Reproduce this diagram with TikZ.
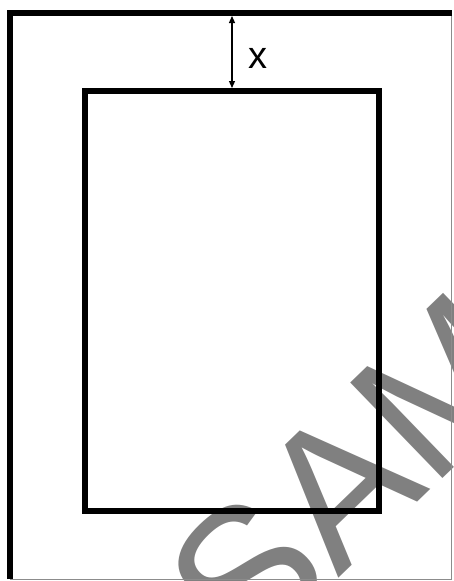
\documentclass[tikz,border=0pt]{standalone}
\usepackage{fontspec}
\setmainfont{Liberation Sans}
\usetikzlibrary{arrows.meta}
\begin{document}
\begin{tikzpicture}[x=1pt,y=-1pt,
  frame/.style={line width=6.5pt},
  edge/.style={draw=black!45,line width=1pt},
  dim/.style={line width=1.2pt,{Triangle[length=7pt,width=6pt]}-{Triangle[length=7pt,width=6pt]}}]
\useasboundingbox (0,0) rectangle (453,581);
% watermark
\begin{scope}
\clip (0,0) rectangle (453,581);
\node[text=black!50,font=\fontsize{193}{193}\selectfont,rotate=44,anchor=base west,inner sep=0pt] (mark) at (246,668) {SAMPLE};
\end{scope}
% outer sheet
\draw[edge] (451,13)--(451,579)--(10,579);
\draw[frame] (10,579)--(10,13)--(452,13);
% inner box
\draw[frame] (85,91) rectangle (379,511);
\coordinate (sheet) at (232,16);
\coordinate (box) at (232,88);
\draw[dim] (sheet)--(box);
\node[font=\fontsize{38}{38}\selectfont,inner sep=0pt] (gap) at (258,58) {x};
\end{tikzpicture}
\end{document}
